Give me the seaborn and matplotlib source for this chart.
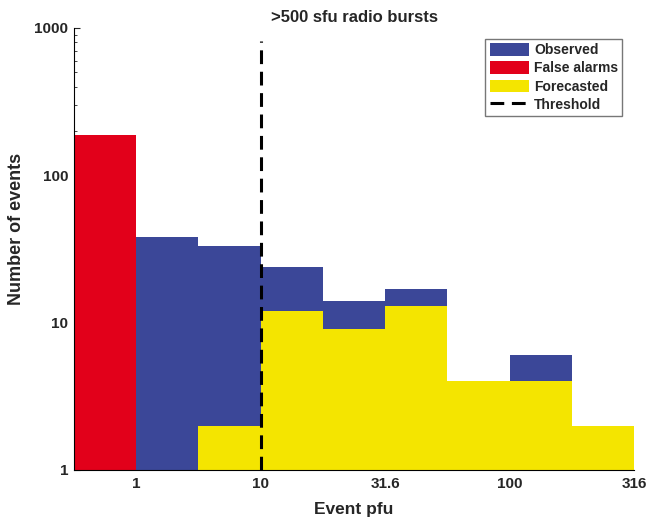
"""
>500 sfu radio bursts - observed / false alarm / forecasted event histogram
"""

import numpy as np
import pandas as pd
import matplotlib
matplotlib.use('Agg')
import matplotlib.pyplot as plt
import seaborn as sns
from matplotlib.patches import Patch
from matplotlib.lines import Line2D

# bin index (half-decade bins of event pfu, starting at 0.316)
bins = list(range(9))
observed = [0, 38, 33, 24, 14, 17, 4, 6, 2]
false_alarms = [188, 0, 0, 0, 0, 0, 0, 0, 0]
forecasted = [0, 0, 2, 12, 9, 13, 4, 4, 2]

# tick labels sit on bin edges 1, 3, 5, 7, 9
tick_edges = [1, 3, 5, 7, 9]
tick_labels = ['1', '10', '31.6', '100', '316']

threshold_edge = 3       # bin edge for 10 pfu
threshold_top = 820

BLUE = '#3b4798'
RED = '#e2001a'
YELLOW = '#f4e500'
DASH = (0, (4.5, 2.5))

sns.set_style('white')
plt.rcParams['font.family'] = ['Liberation Sans', 'DejaVu Sans']
plt.rcParams['font.weight'] = 'bold'

df = pd.DataFrame({'bin': bins, 'observed': observed,
                   'false_alarms': false_alarms, 'forecasted': forecasted})

fig = plt.figure(figsize=(6.46, 5.2), dpi=100)
ax = fig.add_axes([0.1146, 0.0962, 0.867, 0.85])
ax.set_yscale('log')

for col, colr in [('observed', BLUE), ('false_alarms', RED), ('forecasted', YELLOW)]:
    sns.barplot(data=df, x='bin', y=col, color=colr, saturation=1, width=1.0,
                linewidth=0, errorbar=None, ax=ax)

# categorical positions run 0..8, so edge e sits at e - 0.5
ax.plot([threshold_edge - 0.5] * 2, [1, threshold_top], color='black',
        linestyle=DASH, linewidth=2.2)

ax.set_xlim(-0.5, len(bins) - 0.5)
ax.set_ylim(1, 1000)
ax.set_xticks([e - 0.5 for e in tick_edges])
ax.set_xticklabels(tick_labels)
ax.set_yticks([1, 10, 100, 1000])
ax.set_yticklabels(['1', '10', '100', '1000'])
ax.tick_params(axis='x', length=0, labelsize=11, pad=5)
ax.tick_params(axis='y', which='major', left=True, direction='in', length=4,
               width=0.8, labelsize=11, pad=4)
ax.tick_params(axis='y', which='minor', left=True, direction='in', length=2,
               width=0.6)
ax.set_axisbelow(True)

for s in ['top', 'right']:
    ax.spines[s].set_visible(False)
for s in ['left', 'bottom']:
    ax.spines[s].set_color('black')
    ax.spines[s].set_linewidth(0.8)

ax.set_title('>500 sfu radio bursts', fontsize=12, fontweight='bold', pad=4)
ax.set_xlabel('Event pfu', fontsize=12.5, fontweight='bold', labelpad=8)
ax.set_ylabel('Number of events', fontsize=13, fontweight='bold')
ax.yaxis.set_label_coords(-0.087, 0.545)

handles = [Patch(facecolor=BLUE, edgecolor='none', label='Observed'),
           Patch(facecolor=RED, edgecolor='none', label='False alarms'),
           Patch(facecolor=YELLOW, edgecolor='none', label='Forecasted'),
           Line2D([0], [0], color='black', linestyle=DASH, linewidth=2.2,
                  label='Threshold')]
leg = ax.legend(handles=handles, loc='upper right', bbox_to_anchor=(0.979, 0.975),
                fontsize=10, frameon=True, fancybox=False, handlelength=2.8,
                handleheight=1.0, labelspacing=0.3, borderpad=0.3,
                handletextpad=0.4, borderaxespad=0)
leg.get_frame().set_edgecolor('#555555')
leg.get_frame().set_linewidth(1.0)
for t in leg.get_texts():
    t.set_fontweight('bold')

fig.savefig('out.png', dpi=100)
